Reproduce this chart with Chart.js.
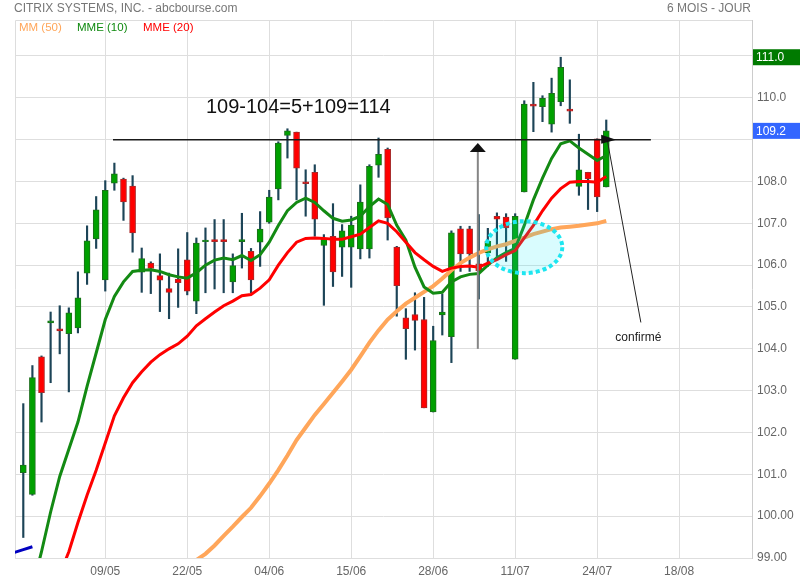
<!DOCTYPE html>
<html>
<head>
<meta charset="utf-8">
<script src="https://cdn.jsdelivr.net/npm/chart.js@4/dist/chart.umd.min.js"></script>
<style>
  html, body { margin: 0; padding: 0; background: #fff; }
</style>
</head>
<body>
<canvas id="myChart" width="800" height="580"></canvas>
<script>
const myChart = document.getElementById("myChart");

// x axis labels (one every 9 sessions)
const dates = ["09/05", "22/05", "04/06", "15/06", "28/06", "11/07", "24/07", "18/08"];
const dateIdx = [9, 18, 27, 36, 45, 54, 63, 72];
const yTicks = [99, 100, 101, 102, 103, 104, 105, 106, 107, 108, 109, 110, 111];

// daily candles
const open = [101.04, 100.52, 103.81, 104.62, 104.48, 104.36, 104.50, 105.81, 106.63, 105.65,
  107.96, 108.06, 107.89, 105.83, 106.05, 105.75, 105.44, 105.67, 106.13, 105.14,
  106.56, 106.61, 106.61, 105.60, 106.56, 106.33, 106.55, 107.03, 107.82, 109.10,
  109.18, 107.99, 108.22, 106.47, 106.69, 106.43, 106.43, 106.39, 106.39, 108.39,
  108.77, 106.43, 104.74, 104.82, 104.70, 102.49, 104.81, 104.29, 106.87, 106.87,
  106.03, 106.29, 107.17, 107.15, 103.75, 107.75, 109.85, 109.79, 109.37, 109.91,
  109.73, 107.88, 108.22, 109.02, 107.87];
const high = [102.69, 103.60, 103.83, 104.88, 105.03, 104.98, 105.84, 106.94, 107.64, 108.02,
  108.44, 108.08, 108.14, 106.41, 106.08, 106.27, 105.81, 106.39, 106.78, 106.65,
  106.89, 107.09, 107.09, 106.27, 107.24, 106.40, 107.28, 107.79, 108.95, 109.26,
  109.18, 108.28, 108.40, 106.73, 107.47, 106.97, 107.17, 107.92, 108.40, 109.04,
  108.80, 106.45, 104.96, 105.34, 105.23, 104.54, 105.31, 106.82, 106.93, 106.93,
  107.21, 106.88, 107.25, 107.23, 107.23, 109.93, 110.37, 110.05, 110.47, 110.97,
  110.43, 109.13, 108.22, 109.02, 109.47];
const low = [99.49, 100.50, 102.25, 103.19, 103.88, 102.97, 104.38, 105.54, 106.40, 105.38,
  107.79, 107.07, 106.31, 105.35, 105.32, 104.89, 104.72, 104.99, 105.29, 104.84,
  105.34, 105.43, 105.34, 105.34, 105.93, 105.34, 105.97, 107.00, 107.56, 108.56,
  107.56, 107.17, 106.69, 105.04, 105.49, 105.73, 105.47, 106.15, 106.17, 108.10,
  106.60, 104.78, 103.75, 103.97, 102.59, 102.49, 104.33, 103.67, 105.85, 105.85,
  105.19, 105.97, 106.15, 106.09, 103.75, 107.75, 109.19, 109.43, 109.18, 109.81,
  109.39, 107.67, 107.33, 107.28, 107.87];
const close = [101.22, 103.31, 102.95, 104.67, 104.43, 104.86, 105.22, 106.58, 107.32, 107.79,
  108.18, 107.51, 106.77, 106.16, 105.92, 105.64, 105.35, 105.58, 105.38, 106.53,
  106.60, 106.56, 106.56, 105.99, 106.61, 105.65, 106.86, 107.63, 108.92, 109.21,
  108.32, 107.95, 107.10, 106.62, 105.84, 106.82, 106.96, 107.51, 108.36, 108.65,
  107.13, 105.51, 104.48, 104.68, 102.59, 104.20, 104.88, 106.77, 106.27, 106.27,
  105.87, 106.57, 107.10, 106.89, 107.17, 109.85, 109.80, 109.99, 110.11, 110.73,
  109.68, 108.28, 108.06, 107.63, 109.21];

// moving averages
const mm50 = [null, null, null, null, null, null, null, null, null, null,
  null, null, null, null, null, null, null, 98.50, 98.75, 98.95,
  99.10, 99.30, 99.53, 99.75, 99.98, 100.20, 100.48, 100.78, 101.10, 101.45,
  101.82, 102.12, 102.42, 102.68, 102.95, 103.22, 103.50, 103.82, 104.15, 104.44,
  104.70, 104.90, 105.08, 105.22, 105.36, 105.50, 105.68, 105.88, 106.05, 106.18,
  106.29, 106.38, 106.45, 106.50, 106.58, 106.66, 106.74, 106.80, 106.86, 106.90,
  106.92, 106.94, 106.97, 107.00, 107.06];
const mme10 = [97.40, 98.30, 99.15, 100.10, 100.95, 101.60, 102.25, 103.10, 103.90, 104.70,
  105.25, 105.60, 105.85, 105.88, 105.89, 105.85, 105.77, 105.72, 105.69, 105.82,
  106.00, 106.12, 106.17, 106.13, 106.23, 106.11, 106.25, 106.55, 106.95, 107.30,
  107.50, 107.60, 107.50, 107.30, 107.12, 107.05, 107.08, 107.17, 107.40, 107.58,
  107.45, 106.95, 106.60, 105.95, 105.48, 105.33, 105.35, 105.60, 105.72, 105.78,
  105.80, 106.00, 106.18, 106.30, 106.40, 106.95, 107.56, 108.08, 108.55, 108.90,
  108.97, 108.80, 108.65, 108.50, 108.62];
const mme20 = [96.20, 96.80, 97.40, 98.00, 98.60, 99.15, 99.85, 100.50, 101.10, 101.75,
  102.40, 102.83, 103.19, 103.45, 103.68, 103.86, 104.00, 104.12, 104.30, 104.55,
  104.72, 104.88, 105.03, 105.14, 105.27, 105.30, 105.45, 105.65, 106.00, 106.30,
  106.55, 106.64, 106.65, 106.64, 106.62, 106.62, 106.68, 106.74, 106.90, 107.06,
  107.00, 106.80, 106.55, 106.30, 106.13, 105.97, 105.85, 105.93, 105.97, 105.98,
  105.95, 106.05, 106.13, 106.25, 106.35, 106.65, 106.95, 107.30, 107.60, 107.83,
  107.98, 108.00, 108.00, 107.98, 108.12];
// short blue average visible at bottom left, starts one session before the first candle
const longMaStart = -1;
const longMa = [99.13, 99.20, 99.27];

const idx = close.map((c, i) => i);
const up = close.map((c, i) => c >= open[i]);
const lastClose = close[close.length - 1];
const topHigh = Math.max(...high);

const overlay = {
  id: "overlay",
  beforeDatasetsDraw(chart) {
    const { ctx, chartArea: a } = chart;
    ctx.save();
    ctx.strokeStyle = "#dddddd";
    ctx.lineWidth = 1;
    ctx.beginPath();
    ctx.moveTo(a.left + 0.5, a.bottom);
    ctx.lineTo(a.left + 0.5, a.top + 0.5);
    ctx.lineTo(a.right, a.top + 0.5);
    ctx.stroke();
    ctx.restore();
  },
  afterDatasetsDraw(chart) {
    const ctx = chart.ctx;
    const X = v => chart.scales.x.getPixelForValue(v);
    const Y = v => chart.scales.y.getPixelForValue(v);
    ctx.save();

    // cyan dotted ellipse
    ctx.beginPath();
    ctx.ellipse(X(55), Y(106.43), 38, 26, 0, 0, Math.PI * 2);
    ctx.fillStyle = "rgba(0,235,245,0.15)";
    ctx.fill();
    ctx.setLineDash([4, 3]);
    ctx.lineWidth = 4;
    ctx.strokeStyle = "#1ee6f0";
    ctx.stroke();
    ctx.setLineDash([]);

    // resistance line
    ctx.strokeStyle = "#1a1a1a";
    ctx.lineWidth = 1.5;
    ctx.beginPath();
    ctx.moveTo(X(9.85), Y(109.0));
    ctx.lineTo(X(68.9), Y(109.0));
    ctx.stroke();

    // target text
    ctx.fillStyle = "#111";
    ctx.font = "20px Arial, 'Liberation Sans'";
    ctx.textBaseline = "middle";
    ctx.textAlign = "left";
    ctx.fillText("109-104=5+109=114", X(20.05), Y(109.76));

    // grey arrow
    const gx = X(49.9), tipY = Y(108.92);
    ctx.strokeStyle = "#858585";
    ctx.lineWidth = 2;
    ctx.beginPath();
    ctx.moveTo(gx, Y(104.0));
    ctx.lineTo(gx, tipY + 6);
    ctx.stroke();
    ctx.fillStyle = "#111";
    ctx.beginPath();
    ctx.moveTo(gx, tipY);
    ctx.lineTo(gx - 8, tipY + 9);
    ctx.lineTo(gx + 8, tipY + 9);
    ctx.closePath();
    ctx.fill();

    // "confirmé" arrow
    const ex = X(64.1), ey = Y(109.0);
    ctx.strokeStyle = "#222";
    ctx.lineWidth = 1;
    ctx.beginPath();
    ctx.moveTo(X(67.8), Y(104.63));
    ctx.lineTo(ex, ey);
    ctx.stroke();
    ctx.fillStyle = "#111";
    ctx.beginPath();
    ctx.moveTo(ex + 9, ey);
    ctx.lineTo(ex - 6, ey - 5);
    ctx.lineTo(ex - 6, ey + 4);
    ctx.closePath();
    ctx.fill();
    ctx.fillStyle = "#222";
    ctx.font = "12px Arial, 'Liberation Sans'";
    ctx.fillText("confirmé", X(65.0), Y(104.27));
    ctx.restore();
  },
  afterDraw(chart) {
    const { ctx, chartArea: a } = chart;
    const Y = v => chart.scales.y.getPixelForValue(v);
    ctx.save();
    ctx.textBaseline = "middle";
    ctx.font = "12px Arial, 'Liberation Sans'";
    ctx.fillStyle = "#777";
    ctx.textAlign = "left";
    ctx.fillText("CITRIX SYSTEMS, INC. - abcbourse.com", 14, 9);
    ctx.textAlign = "right";
    ctx.fillText("6 MOIS - JOUR", 751, 9);

    ctx.textAlign = "left";
    ctx.font = "11.5px Arial, 'Liberation Sans'";
    ctx.fillStyle = "#ffa65a";
    ctx.fillText("MM (50)", 19, 28);
    ctx.fillStyle = "#108a10";
    ctx.fillText("MME (10)", 77, 28);
    ctx.fillStyle = "#ff0000";
    ctx.fillText("MME (20)", 143, 28);

    // price tags on the right axis
    const tag = (v, bg) => {
      const y = Y(v);
      ctx.fillStyle = bg;
      ctx.fillRect(a.right + 1, y - 8, 800 - a.right, 16);
      ctx.fillStyle = "#ffffff";
      ctx.font = "12px Arial, 'Liberation Sans'";
      ctx.fillText(v.toFixed(1), a.right + 4, y + 0.5);
    };
    tag(topHigh, "#007a00");
    tag(lastClose, "#3366ff");
    ctx.restore();
  },
};

new Chart(myChart, {
  type: "bar",
  data: {
    datasets: [
      {
        type: "line",
        label: "MME (20)",
        data: idx.map(i => ({ x: i, y: mme20[i] })),
        borderColor: "#ff0000",
        borderWidth: 3,
        pointRadius: 0,
        order: 0,
      },
      {
        type: "line",
        label: "MME (10)",
        data: idx.map(i => ({ x: i, y: mme10[i] })),
        borderColor: "#138a13",
        borderWidth: 3,
        pointRadius: 0,
        order: 1,
      },
      {
        type: "line",
        label: "MM (50)",
        data: idx.map(i => ({ x: i, y: mm50[i] })),
        borderColor: "#ffa65a",
        borderWidth: 4,
        pointRadius: 0,
        order: 2,
      },
      {
        type: "line",
        label: "long",
        data: longMa.map((v, k) => ({ x: longMaStart + k, y: v })),
        borderColor: "#0000c0",
        borderWidth: 3,
        pointRadius: 0,
        order: 2,
      },
      {
        label: "corps",
        data: idx.map(i => ({ x: i, y: [open[i], close[i]] })),
        backgroundColor: up.map(u => (u ? "#00a000" : "#ff0000")),
        borderColor: up.map(u => (u ? "#1b6f1b" : "#a82828")),
        borderWidth: 1,
        borderSkipped: false,
        barThickness: 6,
        grouped: false,
        order: 3,
      },
      {
        label: "meches",
        data: idx.map(i => ({ x: i, y: [low[i], high[i]] })),
        backgroundColor: "#1c4457",
        barThickness: 1.5,
        grouped: false,
        order: 4,
      },
    ],
  },
  options: {
    responsive: false,
    animation: false,
    layout: { padding: { left: 15, top: 20, right: 0, bottom: 0 } },
    plugins: { legend: { display: false }, tooltip: { enabled: false } },
    scales: {
      x: {
        type: "linear",
        min: -0.91,
        max: 80,
        offset: false,
        grid: { color: "#dedede", offset: false, drawTicks: false },
        border: { color: "#dedede" },
        afterBuildTicks: s => { s.ticks = dateIdx.map(v => ({ value: v })); },
        ticks: {
          callback: v => dates[dateIdx.indexOf(v)] || "",
          color: "#666",
          font: { family: "Arial, 'Liberation Sans'", size: 12 },
          padding: 6,
          maxRotation: 0,
          autoSkip: false,
        },
        afterFit: s => { s.height = 22; },
      },
      y: {
        position: "right",
        min: 99,
        max: 111.86,
        grid: { color: "#dedede", drawTicks: false },
        border: { color: "#cccccc" },
        afterBuildTicks: s => { s.ticks = yTicks.map(v => ({ value: v })); },
        ticks: {
          callback: v => {
            if (Math.abs(v - lastClose) < 0.3 || Math.abs(v - topHigh) < 0.3) return "";
            return v >= 101 ? v.toFixed(1) : v.toFixed(2);
          },
          color: "#666",
          font: { family: "Arial, 'Liberation Sans'", size: 12 },
          padding: 5,
        },
        afterFit: s => { s.width = 48; },
      },
    },
  },
  plugins: [overlay],
});
</script>
</body>
</html>
